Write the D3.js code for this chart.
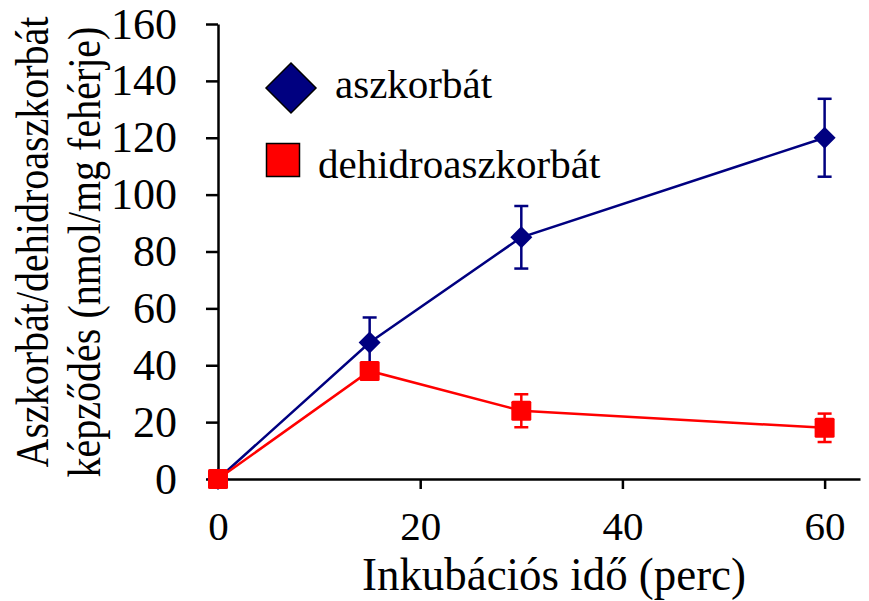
<!DOCTYPE html>
<html>
<head>
<meta charset="utf-8">
<script src="https://cdn.jsdelivr.net/npm/d3@7"></script>
<style>
    body { margin: 0; background: #fff; }
    svg { display: block; }
    svg text { font-family: 'Liberation Serif', serif !important; fill: #000; }
    .axis path, .axis line { stroke: #000; stroke-width: 2.5; }
</style>
</head>
<body>
<svg id="chart"></svg>
<script>
    // minutes of incubation
    const times = [0, 15, 30, 60];
    // nmol/mg protein
    const ascorbate = [0, 48, 85, 120];
    const ascorbateErr = [0, 8.8, 11, 13.7];
    const dehydroascorbate = [0, 38, 24, 18];
    const dehydroascorbateErr = [0, 2.5, 5.8, 5];

    const xTicks = [0, 20, 40, 60];
    const yTicks = [0, 20, 40, 60, 80, 100, 120, 140, 160];

    const seriesNames = ['aszkorbát', 'dehidroaszkorbát'];
    const colors = ['#000080', '#ff0000'];

    const width = 869, height = 601;
    const svg = d3.select('#chart')
        .attr('width', width)
        .attr('height', height);

    const x = d3.scaleLinear().domain([0, 63.5]).range([218, 860]);
    const y = d3.scaleLinear().domain([0, 160]).range([479, 24]);

    const series = [
        {name: seriesNames[0], color: colors[0], values: ascorbate, err: ascorbateErr, shape: 'diamond'},
        {name: seriesNames[1], color: colors[1], values: dehydroascorbate, err: dehydroascorbateErr, shape: 'square'}
    ];

    // axes
    svg.append('g')
        .attr('class', 'axis')
        .attr('transform', `translate(0,${y(0)})`)
        .call(d3.axisBottom(x).tickValues(xTicks).tickSize(10).tickSizeOuter(0))
        .attr('font-size', 41)
        .call(g => g.selectAll('text').attr('y', 61).attr('dy', 0));

    svg.append('g')
        .attr('class', 'axis')
        .attr('transform', `translate(${x(0)},0)`)
        .call(d3.axisLeft(y).tickValues(yTicks).tickSize(12).tickSizeOuter(0))
        .attr('font-size', 44)
        .call(g => g.selectAll('text').attr('x', -41));

    // axis titles
    svg.append('text')
        .attr('x', 362)
        .attr('y', 590)
        .attr('textLength', 384)
        .attr('lengthAdjust', 'spacingAndGlyphs')
        .style('font-size', '47px')
        .text('Inkubációs idő (perc)');

    // the y title glyphs are a bit wider than tall in the original
    svg.append('g')
        .attr('transform', 'translate(48,242) scale(1.15,1) rotate(-90)')
        .append('text')
        .attr('text-anchor', 'middle')
        .style('font-size', '40px')
        .text('Aszkorbát/dehidroaszkorbát');
    svg.append('g')
        .attr('transform', 'translate(100,252) scale(1.15,1) rotate(-90)')
        .append('text')
        .attr('text-anchor', 'middle')
        .style('font-size', '40px')
        .text('képződés (nmol/mg fehérje)');

    const line = d3.line()
        .x((d, i) => x(times[i]))
        .y(d => y(d));

    function marker(sel, shape, r) {
        if (shape === 'diamond') {
            sel.append('path').attr('d', `M0,${-r}L${r},0L0,${r}L${-r},0Z`);
        } else {
            sel.append('rect').attr('x', -r).attr('y', -r)
                .attr('width', 2 * r).attr('height', 2 * r).attr('rx', 1.5);
        }
    }

    series.forEach(s => {
        const g = svg.append('g');
        g.append('path')
            .datum(s.values)
            .attr('fill', 'none')
            .attr('stroke', s.color)
            .attr('stroke-width', 2.5)
            .attr('d', line);

        const eb = g.selectAll('g.err')
            .data(s.values.map((v, i) => ({t: times[i], v: v, e: s.err[i]})).filter(d => d.e > 0))
            .join('g')
            .attr('class', 'err')
            .attr('stroke', s.color)
            .attr('stroke-width', 2.5);
        eb.append('line')
            .attr('x1', d => x(d.t)).attr('x2', d => x(d.t))
            .attr('y1', d => y(d.v + d.e)).attr('y2', d => y(d.v - d.e));
        eb.append('line')
            .attr('x1', d => x(d.t) - 7).attr('x2', d => x(d.t) + 7)
            .attr('y1', d => y(d.v + d.e)).attr('y2', d => y(d.v + d.e));
        eb.append('line')
            .attr('x1', d => x(d.t) - 7).attr('x2', d => x(d.t) + 7)
            .attr('y1', d => y(d.v - d.e)).attr('y2', d => y(d.v - d.e));

        g.selectAll('g.pt')
            .data(s.values)
            .join('g')
            .attr('class', 'pt')
            .attr('fill', s.color)
            .attr('transform', (d, i) => `translate(${x(times[i])},${y(d)})`)
            .each(function () { marker(d3.select(this), s.shape, s.shape === 'diamond' ? 11 : 10); });
    });

    // legend
    const legend = svg.append('g');
    const legendItems = [
        {shape: 'diamond', r: 25, cx: 291, cy: 88, tx: 335, ty: 98},
        {shape: 'square', r: 16.5, cx: 283, cy: 160, tx: 318, ty: 178}
    ];
    legendItems.forEach((it, i) => {
        const m = legend.append('g')
            .attr('transform', `translate(${it.cx},${it.cy})`)
            .attr('fill', colors[i])
            .attr('stroke', '#000')
            .attr('stroke-width', 1.5);
        if (it.shape === 'diamond') {
            m.append('path').attr('d', `M0,${-it.r}L${it.r},0L0,${it.r}L${-it.r},0Z`);
        } else {
            m.append('rect').attr('x', -it.r).attr('y', -it.r)
                .attr('width', 2 * it.r).attr('height', 2 * it.r);
        }
        legend.append('text')
            .attr('x', it.tx)
            .attr('y', it.ty)
            .style('font-size', '41px')
            .text(seriesNames[i]);
    });
</script>
</body>
</html>
